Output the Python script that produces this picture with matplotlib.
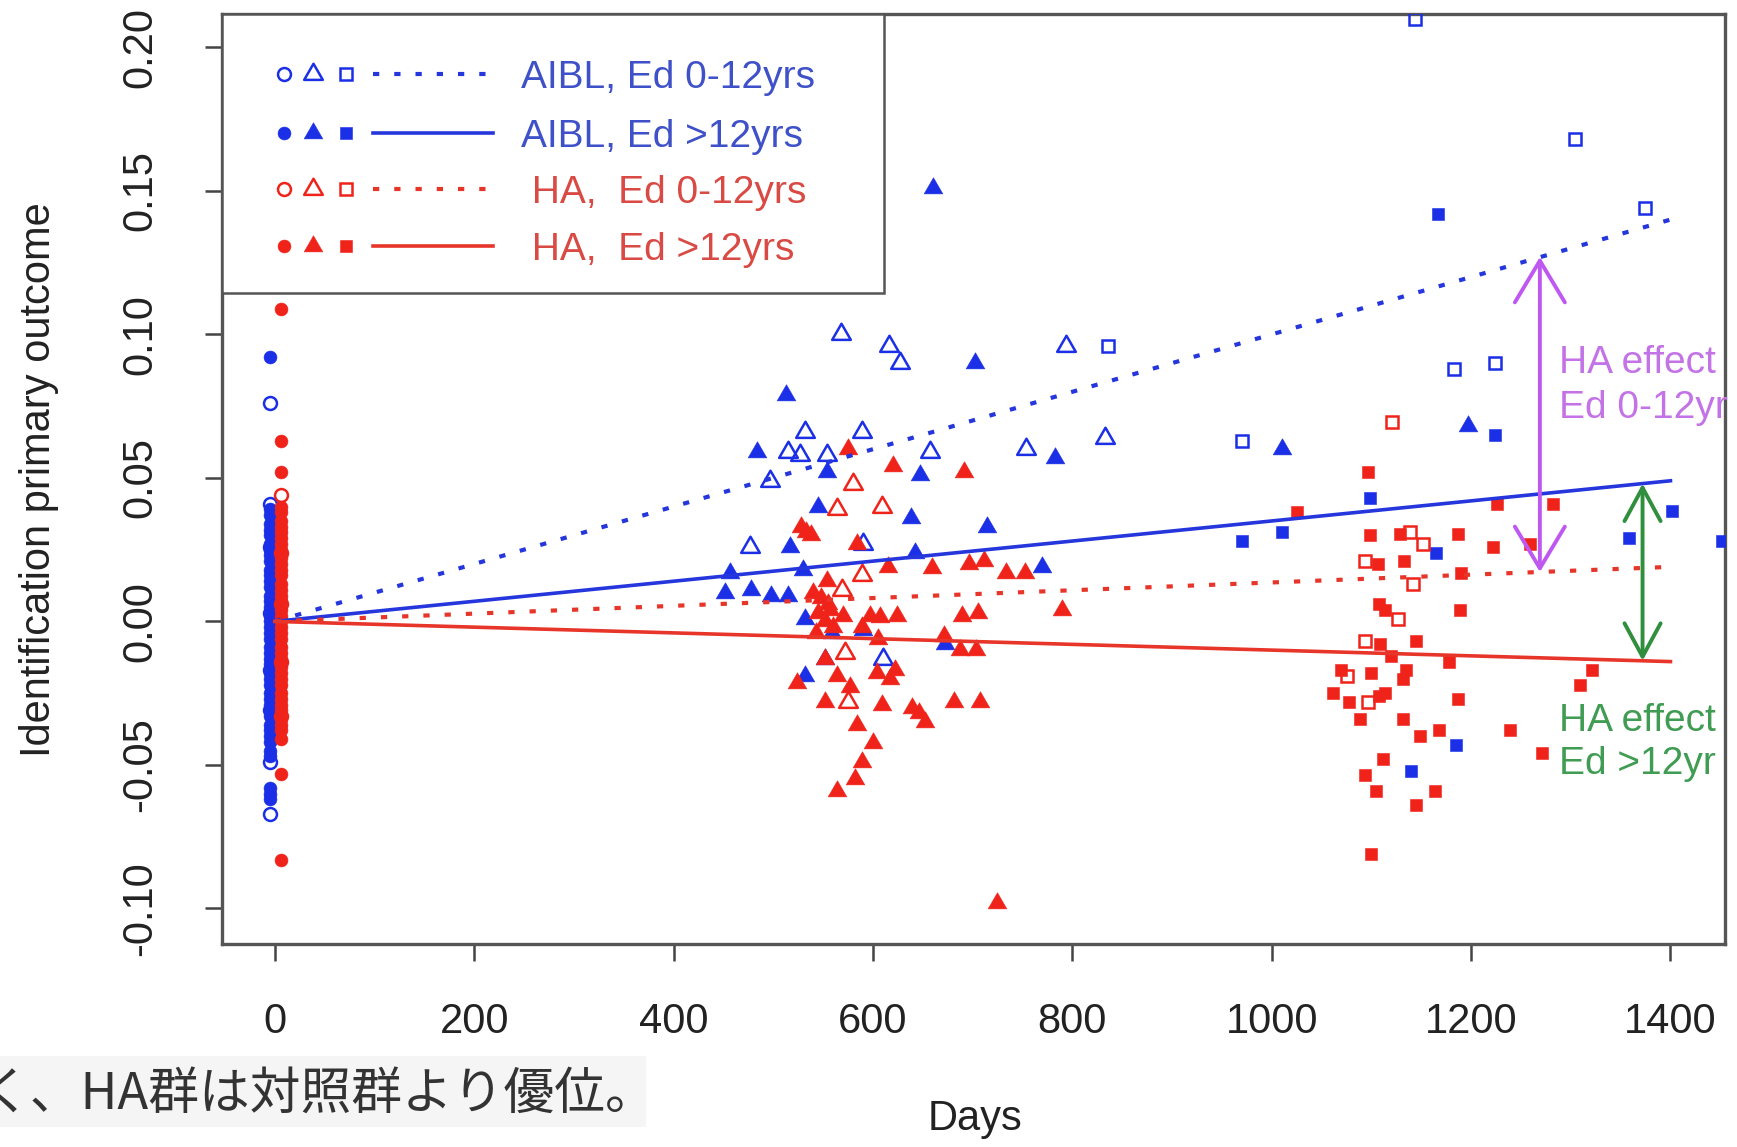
import matplotlib
matplotlib.use('Agg')
import matplotlib.pyplot as plt
from matplotlib.patches import FancyArrowPatch, Rectangle, ArrowStyle
from matplotlib.path import Path
import numpy as np

plt.rcParams['font.family'] = ['Liberation Sans', 'DejaVu Sans']

# ---------------- data ----------------
# baseline visit (circles)
aibl_lo_base_val = [0.076, 0.041, 0.026, 0.003, -0.017, -0.031, -0.049, -0.067]
aibl_hi_base_val = [0.092, 0.039, 0.037, 0.034, 0.032, 0.030, 0.027, 0.025, 0.023, 0.021,
                    0.018, 0.016, 0.014, 0.012, 0.009, 0.007, 0.005, 0.002, 0.000, -0.002,
                    -0.004, -0.006, -0.009, -0.011, -0.013, -0.015, -0.018, -0.020, -0.022,
                    -0.025, -0.027, -0.029, -0.031, -0.033, -0.036, -0.038, -0.040, -0.042,
                    -0.045, -0.047, -0.058, -0.060, -0.062]
ha_lo_base_val = [0.044, 0.024, 0.006, -0.014, -0.033]
ha_hi_base_val = [0.109, 0.063, 0.052, 0.040, 0.038, 0.035, 0.033, 0.031, 0.029, 0.027,
                  0.025, 0.022, 0.020, 0.018, 0.016, 0.013, 0.011, 0.009, 0.007, 0.004,
                  0.002, 0.000, -0.002, -0.004, -0.006, -0.009, -0.011, -0.013, -0.016,
                  -0.018, -0.020, -0.022, -0.025, -0.027, -0.029, -0.031, -0.034, -0.036,
                  -0.038, -0.041, -0.053, -0.083]
aibl_base_day = -5
ha_base_day = 6

# second visit (triangles)
aibl_lo_tri_day = [568, 616, 627, 794, 532, 589, 515, 527, 554, 657, 754, 833, 497, 477, 610, 590]
aibl_lo_tri_val = [0.100, 0.096, 0.090, 0.096, 0.066, 0.066, 0.059, 0.058, 0.058, 0.059, 0.060,
                   0.064, 0.049, 0.026, -0.013, 0.027]
aibl_hi_tri_day = [660, 702, 513, 484, 783, 554, 647, 545, 638, 714, 517, 642, 770, 457, 530,
                   452, 478, 498, 515, 532, 559, 590, 672, 532, 552, 1010, 1197]
aibl_hi_tri_val = [0.151, 0.090, 0.079, 0.059, 0.057, 0.052, 0.051, 0.040, 0.036, 0.033, 0.026,
                   0.024, 0.019, 0.017, 0.018, 0.010, 0.011, 0.009, 0.009, 0.001, -0.004, -0.003,
                   -0.008, -0.019, -0.013, 0.060, 0.068]
ha_lo_tri_day = [589, 580, 609, 564, 569, 572, 575]
ha_lo_tri_val = [0.016, 0.048, 0.040, 0.039, 0.011, -0.011, -0.028]
ha_hi_tri_day = [575, 620, 691, 528, 533, 538, 584, 615, 659, 696, 734, 711, 753, 554, 540, 548,
                 555, 545, 552, 560, 543, 557, 570, 597, 607, 624, 689, 705, 790, 589, 605, 671,
                 687, 703, 552, 524, 564, 577, 604, 617, 622, 552, 609, 639, 681, 707, 652, 646,
                 584, 600, 589, 582, 564, 724]
ha_hi_tri_val = [0.060, 0.054, 0.052, 0.033, 0.031, 0.030, 0.027, 0.019, 0.0185, 0.020, 0.017,
                 0.021, 0.017, 0.014, 0.010, 0.008, 0.006, 0.003, 0.000, -0.002, -0.004, 0.004,
                 0.002, 0.002, 0.0017, 0.002, 0.002, 0.003, 0.004, -0.002, -0.006, -0.005,
                 -0.010, -0.010, -0.013, -0.0215, -0.019, -0.023, -0.018, -0.020, -0.017, -0.028,
                 -0.029, -0.030, -0.028, -0.028, -0.035, -0.032, -0.036, -0.0425, -0.049, -0.055,
                 -0.059, -0.098]

# third visit (squares)
aibl_lo_sq_day = [1144, 1304, 1374, 1183, 1224, 836, 970]
aibl_lo_sq_val = [0.210, 0.168, 0.144, 0.088, 0.090, 0.096, 0.063]
aibl_hi_sq_day = [1167, 1224, 1099, 1010, 970, 1165, 1358, 1402, 1452, 1185, 1140]
aibl_hi_sq_val = [0.142, 0.065, 0.043, 0.031, 0.028, 0.024, 0.029, 0.0385, 0.028, -0.043, -0.052]
ha_lo_sq_day = [1121, 1139, 1152, 1094, 1142, 1127, 1094, 1076, 1097]
ha_lo_sq_val = [0.0695, 0.031, 0.027, 0.021, 0.013, 0.001, -0.007, -0.019, -0.028]
ha_hi_sq_day = [1097, 1025, 1226, 1282, 1099, 1129, 1187, 1222, 1259, 1107, 1133, 1190, 1189,
                1108, 1114, 1109, 1120, 1145, 1178, 1321, 1309, 1070, 1100, 1135, 1132, 1062,
                1078, 1108, 1114, 1187, 1089, 1132, 1149, 1168, 1239, 1271, 1112, 1094, 1105,
                1164, 1145, 1100]
ha_hi_sq_val = [0.052, 0.038, 0.041, 0.041, 0.030, 0.0305, 0.0305, 0.026, 0.027, 0.020, 0.021,
                0.017, 0.004, 0.006, 0.004, -0.008, -0.012, -0.007, -0.014, -0.017, -0.022,
                -0.017, -0.018, -0.017, -0.020, -0.025, -0.028, -0.026, -0.025, -0.027, -0.034,
                -0.034, -0.040, -0.038, -0.038, -0.046, -0.048, -0.0535, -0.059, -0.059, -0.064,
                -0.081]

# fitted lines: (start day, start value), (end day, end value)
fit_days = [0, 1400]
fit_aibl_lo = [0.0, 0.140]
fit_aibl_hi = [0.0, 0.049]
fit_ha_lo = [0.0, 0.019]
fit_ha_hi = [0.0, -0.014]

# HA effect arrows (day, from, to)
effect_lo = (1269, 0.0172, 0.127)
effect_hi = (1372, -0.0137, 0.048)

legend_labels = ["AIBL, Ed 0-12yrs", "AIBL, Ed >12yrs", " HA,  Ed 0-12yrs", " HA,  Ed >12yrs"]
xticks = [0, 200, 400, 600, 800, 1000, 1200, 1400]
yticks = [-0.10, -0.05, 0.00, 0.05, 0.10, 0.15, 0.20]
ytick_labels = ["-0.10", "-0.05", "0.00", "0.05", "0.10", "0.15", "0.20"]

# ---------------- styling ----------------
BLUE = '#1a2fe6'
RED = '#f0231a'
BLUE_LINE = '#2536dc'
RED_LINE = '#e8352a'
BLUE_TXT = '#3f51c8'
RED_TXT = '#d94a44'
PURPLE = '#bf58f0'
PURPLE_TXT = '#c373e6'
GREEN = '#2f8f3c'
GREEN_TXT = '#3f9c52'

W, H = 1737, 1147
DPI = 100
fig = plt.figure(figsize=(W / DPI, H / DPI), dpi=DPI)


def fx(px):
    return px / W


def fy(py):
    return 1 - py / H


ax = fig.add_axes([fx(221.6), fy(944), fx(1725) - fx(221.6), fy(14.4) - fy(944)])
ax.set_xlim(-53.3, 1454.7)
ax.set_ylim(-0.1124, 0.2115)

TRI = Path([(0, 1), (-0.866, -0.5), (0.866, -0.5), (0, 1)],
           [Path.MOVETO, Path.LINETO, Path.LINETO, Path.CLOSEPOLY])

MS_C, MS_T, MS_S = 9.3, 15.5, 8.6
MEW = 1.8


def pts(days, vals, marker, ms, color, filled, z=3):
    if filled:
        ax.plot(days, vals, ls='none', marker=marker, ms=ms, mfc=color, mec=color, mew=0.4, zorder=z)
    else:
        ax.plot(days, vals, ls='none', marker=marker, ms=ms, mfc='none', mec=color, mew=MEW, zorder=z)


# AIBL points
pts([aibl_base_day] * len(aibl_hi_base_val), aibl_hi_base_val, 'o', MS_C, BLUE, True)
pts([aibl_base_day] * len(aibl_lo_base_val), aibl_lo_base_val, 'o', MS_C, BLUE, False)
pts(aibl_hi_tri_day, aibl_hi_tri_val, TRI, MS_T, BLUE, True)
pts(aibl_lo_tri_day, aibl_lo_tri_val, TRI, MS_T, BLUE, False)
pts(aibl_hi_sq_day, aibl_hi_sq_val, 's', MS_S, BLUE, True)
pts(aibl_lo_sq_day, aibl_lo_sq_val, 's', MS_S, BLUE, False)
# HA points
pts([ha_base_day] * len(ha_hi_base_val), ha_hi_base_val, 'o', MS_C, RED, True)
pts([ha_base_day] * len(ha_lo_base_val), ha_lo_base_val, 'o', MS_C, RED, False)
pts(ha_hi_tri_day, ha_hi_tri_val, TRI, MS_T, RED, True)
pts(ha_lo_tri_day, ha_lo_tri_val, TRI, MS_T, RED, False)
pts(ha_hi_sq_day, ha_hi_sq_val, 's', MS_S, RED, True)
pts(ha_lo_sq_day, ha_lo_sq_val, 's', MS_S, RED, False)

DOT = (0, (1.5, 3.6))
LW_DOT, LW_SOL = 3.0, 2.6
ax.plot(fit_days, fit_aibl_lo, color=BLUE_LINE, lw=LW_DOT, ls=DOT, dash_capstyle='butt', zorder=4)
ax.plot(fit_days, fit_aibl_hi, color=BLUE_LINE, lw=LW_SOL, zorder=4)
ax.plot(fit_days, fit_ha_lo, color=RED_LINE, lw=LW_DOT, ls=DOT, dash_capstyle='butt', zorder=4)
ax.plot(fit_days, fit_ha_hi, color=RED_LINE, lw=LW_SOL, zorder=4)

# arrows
for (d, y0, y1), col, hl, hw in [(effect_lo, PURPLE, 30, 18), (effect_hi, GREEN, 24, 13)]:
    ax.add_patch(FancyArrowPatch((d, y0), (d, y1),
                                 arrowstyle=ArrowStyle('<->', head_length=hl, head_width=hw),
                                 mutation_scale=1, color=col, lw=2.8, shrinkA=0, shrinkB=0,
                                 zorder=7))

for txt, y, col in [("HA effect", 0.090, PURPLE_TXT), ("Ed 0-12yr", 0.0745, PURPLE_TXT),
                    ("HA effect", -0.0347, GREEN_TXT), ("Ed >12yr", -0.0498, GREEN_TXT)]:
    t = ax.text(1288, y, txt, fontsize=28, color=col, va='center', ha='left', zorder=8)
    t.set_clip_path(ax.patch)

# axes styling
for s in ax.spines.values():
    s.set_color('#555555')
    s.set_linewidth(2.4)
ax.set_xticks(xticks)
ax.set_xticklabels([str(v) for v in xticks])
ax.set_yticks(yticks)
ax.set_yticklabels(ytick_labels)
ax.tick_params(axis='both', direction='out', length=12, width=1.8, color='#444444',
               labelsize=30, labelcolor='#222222')
ax.tick_params(axis='x', pad=30)
ax.tick_params(axis='y', pad=32)
for lbl in ax.get_yticklabels():
    lbl.set_rotation(90)
    lbl.set_va('center')

# legend (drawn manually, R style)
ax.add_patch(Rectangle((0, 0.7003), 0.4406, 0.2997, transform=ax.transAxes, facecolor='white',
                       edgecolor='#555555', lw=1.8, zorder=10, clip_on=False))
rows_y = [0.9357, 0.8725, 0.8117, 0.7509]
row_col = [BLUE, BLUE, RED, RED]
row_txtcol = [BLUE_TXT, BLUE_TXT, RED_TXT, RED_TXT]
row_filled = [False, True, False, True]
row_ls = [DOT, '-', DOT, '-']
row_line_col = [BLUE_LINE, BLUE_LINE, RED_LINE, RED_LINE]
for i, y in enumerate(rows_y):
    for mx, mk, ms in [(0.0412, 'o', MS_C), (0.0611, TRI, MS_T), (0.0825, 's', MS_S)]:
        if row_filled[i]:
            ax.plot([mx], [y], marker=mk, ms=ms, mfc=row_col[i], mec=row_col[i], mew=0.4,
                    transform=ax.transAxes, clip_on=False, zorder=11, ls='none')
        else:
            ax.plot([mx], [y], marker=mk, ms=ms, mfc='none', mec=row_col[i], mew=MEW,
                    transform=ax.transAxes, clip_on=False, zorder=11, ls='none')
    ax.plot([0.1009, 0.1805], [y, y], color=row_line_col[i], ls=row_ls[i],
            lw=LW_DOT if row_ls[i] != '-' else LW_SOL, dash_capstyle='butt',
            transform=ax.transAxes, clip_on=False, zorder=11)
    ax.text(0.199, y - 0.004, legend_labels[i], transform=ax.transAxes, fontsize=28,
            color=row_txtcol[i], va='center', ha='left', zorder=12)

# axis labels
fig.text(fx(39), fy(480), "Identification primary outcome", rotation=90, fontsize=30,
         color='#222222', ha='center', va='center')
fig.text(fx(975), fy(1119), "Days", fontsize=30, color='#222222', ha='center', va='center')

# overlaid caption box (bottom-left)
fig.patches.append(Rectangle((0, fy(1127)), fx(646), fy(1056) - fy(1127), transform=fig.transFigure,
                             facecolor='#f5f5f5', edgecolor='none', zorder=0))
fig.text(fx(-21), fy(1095), "く、HA群は対照群より優位。", fontsize=36.5,
         family=['Noto Sans CJK JP', 'DejaVu Sans'], color='#333333', ha='left', va='center')

fig.savefig('out.png', dpi=DPI, facecolor='white')
